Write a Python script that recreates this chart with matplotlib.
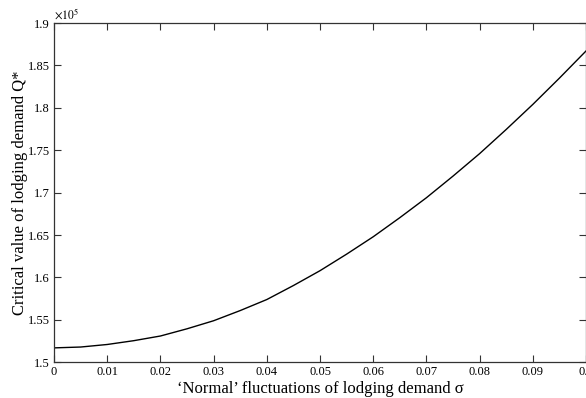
import matplotlib.pyplot as plt
import numpy as np
from matplotlib.ticker import FuncFormatter

plt.rcParams['font.family'] = ['Liberation Serif', 'DejaVu Serif']
plt.rcParams['mathtext.fontset'] = 'stix'

# values (Q* in units of 1e5)
sigma = [0.0, 0.005, 0.01, 0.015, 0.02, 0.025, 0.03, 0.035, 0.04, 0.045, 0.05,
         0.055, 0.06, 0.065, 0.07, 0.075, 0.08, 0.085, 0.09, 0.095, 0.1]
q_star = [1.517, 1.518, 1.521, 1.5255, 1.531, 1.5395, 1.549, 1.561, 1.574, 1.5905, 1.608,
          1.6275, 1.648, 1.6705, 1.694, 1.7195, 1.746, 1.7745, 1.804, 1.835, 1.867]

xticks = [0, 0.01, 0.02, 0.03, 0.04, 0.05, 0.06, 0.07, 0.08, 0.09, 0.1]
yticks = [1.5, 1.55, 1.6, 1.65, 1.7, 1.75, 1.8, 1.85, 1.9]

fig = plt.figure(figsize=(5.86, 3.98), dpi=100)
ax = fig.add_axes([0.0922, 0.0897, 0.9078, 0.8525])

ax.plot(sigma, q_star, color='black', linewidth=1.0)

ax.set_xlim(0, 0.1)
ax.set_ylim(1.5, 1.9)
ax.set_xticks(xticks)
ax.set_yticks(yticks)
fmt = FuncFormatter(lambda v, p: '%g' % round(v, 4))
ax.xaxis.set_major_formatter(fmt)
ax.yaxis.set_major_formatter(fmt)
ax.tick_params(direction='in', length=5, width=0.8, labelsize=9,
               top=True, right=True, color='#333333', pad=3)
for s in ax.spines.values():
    s.set_linewidth(0.9)
    s.set_color('#333333')

ax.text(0.0, 1.004, r'$\times 10^{5}$', transform=ax.transAxes,
        fontsize=8.5, ha='left', va='bottom')

ax.set_xlabel('\u2018Normal\u2019 fluctuations of lodging demand \u03c3', fontsize=12, labelpad=2)
ax.set_ylabel('Critical value of lodging demand Q*', fontsize=12, labelpad=0)

fig.savefig('out.png', dpi=100)
